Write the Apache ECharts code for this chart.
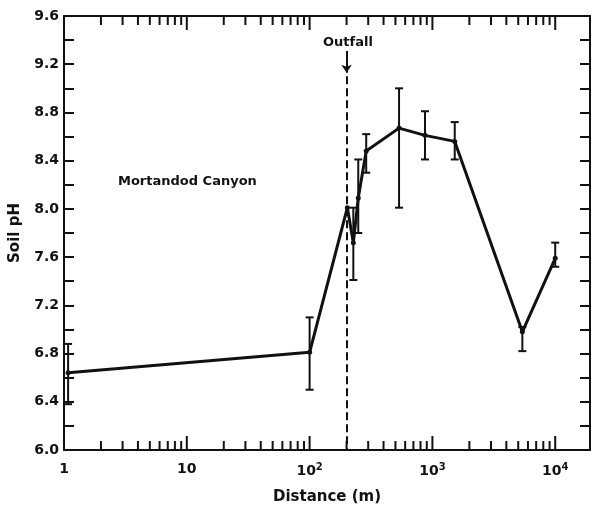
<!DOCTYPE html>
<html>
<head>
<meta charset="utf-8">
<script src="https://cdn.jsdelivr.net/npm/echarts@6/dist/echarts.min.js"></script>
<style>
  html, body { margin: 0; padding: 0; background: #fff; }
  #chart { width: 593px; height: 510px; }
</style>
</head>
<body>
<div id="chart"></div>
<script>
// distance (m) and soil pH
var distance = [1.08, 100, 203, 227, 249, 289, 535, 870, 1520, 5400, 10000];
var soilPH   = [6.64, 6.81, 8.01, 7.72, 8.09, 8.48, 8.67, 8.61, 8.56, 6.98, 7.59];
// error bar ends (null = no bar drawn)
var errLow   = [6.38, 6.50, null, 7.41, 7.80, 8.30, 8.01, 8.41, 8.41, 6.82, 7.52];
var errHigh  = [6.88, 7.10, null, 8.01, 8.41, 8.62, 9.00, 8.81, 8.72, 7.02, 7.72];

var outfallX = 200;
var xTickLabels = { 0: '1', 1: '10', 2: '10{sup|2}', 3: '10{sup|3}', 4: '10{sup|4}' };
var yMin = 6.0, yMax = 9.6, yStep = 0.4;
var xMin = 1, xMax = 19200;

var font = '"DejaVu Sans", sans-serif';
var ink = '#111';

var points = distance.map(function (d, i) { return [d, soilPH[i]]; });
var errData = [];
distance.forEach(function (d, i) {
  if (errLow[i] != null) errData.push([d, errLow[i], errHigh[i]]);
});

// log-axis tick positions (1..9 x 10^k), drawn on bottom & top frame
var logTicks = [];
for (var k = 0; k <= 4; k++) {
  for (var m = 1; m <= 9; m++) {
    var v = m * Math.pow(10, k);
    if (v <= xMax) logTicks.push([v, m === 1 ? 1 : 0]);
  }
}

var chart = echarts.init(document.getElementById('chart'));

chart.setOption({
  backgroundColor: '#fff',
  animation: false,
  grid: { left: 61, right: 3, top: 16, bottom: 51 },
  xAxis: [{
    type: 'log',
    logBase: 10,
    min: xMin,
    max: xMax,
    position: 'bottom',
    name: 'Distance (m)',
    nameLocation: 'middle',
    nameGap: 40,
    nameTextStyle: { fontFamily: font, fontWeight: 'bold', fontSize: 15, color: ink },
    axisLine: { lineStyle: { color: ink, width: 2 } },
    axisTick: { show: false },
    splitLine: { show: false },
    axisLabel: {
      margin: 12,
      showMaxLabel: false,
      formatter: function (val) {
        var e = Math.log10(val);
        var r = Math.round(e);
        if (Math.abs(e - r) > 1e-6) return '';
        return xTickLabels[r] || '';
      },
      fontFamily: font, fontWeight: 'bold', fontSize: 14, color: ink,
      rich: {
        sup: { fontFamily: font, fontWeight: 'bold', fontSize: 10, color: ink, verticalAlign: 'top', padding: [0, 0, 8, 0] }
      }
    }
  }, {
    type: 'log',
    logBase: 10,
    min: xMin,
    max: xMax,
    position: 'top',
    axisLine: { lineStyle: { color: ink, width: 2 } },
    axisTick: { show: false },
    axisLabel: { show: false },
    splitLine: { show: false }
  }],
  yAxis: [{
    type: 'value',
    min: yMin,
    max: yMax,
    interval: yStep,
    position: 'left',
    name: 'Soil pH',
    nameLocation: 'middle',
    nameGap: 41,
    nameTextStyle: { fontFamily: font, fontWeight: 'bold', fontSize: 15, color: ink },
    axisLine: { show: true, lineStyle: { color: ink, width: 2 } },
    axisTick: { show: true, inside: true, length: 10, lineStyle: { color: ink, width: 2 } },
    minorTick: { show: true, splitNumber: 2, length: 10, lineStyle: { color: ink, width: 2 } },
    splitLine: { show: false },
    axisLabel: {
      margin: 5,
      formatter: function (v) { return v.toFixed(1); },
      fontFamily: font, fontWeight: 'bold', fontSize: 14, color: ink
    }
  }, {
    type: 'value',
    min: yMin,
    max: yMax,
    interval: yStep,
    position: 'right',
    axisLine: { show: true, lineStyle: { color: ink, width: 2 } },
    axisTick: { show: true, inside: true, length: 10, lineStyle: { color: ink, width: 2 } },
    minorTick: { show: true, splitNumber: 2, length: 10, lineStyle: { color: ink, width: 2 } },
    splitLine: { show: false },
    axisLabel: { show: false }
  }],
  graphic: [
    { type: 'text', left: 323, top: 36, style: { text: 'Outfall', font: 'bold 13px ' + font, fill: ink } },
    { type: 'text', left: 118, top: 175, style: { text: 'Mortandod Canyon', font: 'bold 13px ' + font, fill: ink } }
  ],
  series: [{
    // log ticks on the bottom and top frame
    name: 'logTicks',
    type: 'custom',
    silent: true,
    clip: false,
    data: logTicks,
    renderItem: function (params, api) {
      var bottom = api.coord([api.value(0), yMin]);
      var top = api.coord([api.value(0), yMax]);
      var len = api.value(1) ? 14 : 9;
      var style = { stroke: ink, lineWidth: 2 };
      return {
        type: 'group',
        children: [
          { type: 'line', shape: { x1: bottom[0], y1: bottom[1], x2: bottom[0], y2: bottom[1] - len }, style: style },
          { type: 'line', shape: { x1: top[0], y1: top[1], x2: top[0], y2: top[1] + len }, style: style }
        ]
      };
    }
  }, {
    name: 'errorBars',
    type: 'custom',
    silent: true,
    data: errData,
    renderItem: function (params, api) {
      var lo = api.coord([api.value(0), api.value(1)]);
      var hi = api.coord([api.value(0), api.value(2)]);
      var cap = 4;
      var style = { stroke: ink, lineWidth: 2 };
      return {
        type: 'group',
        children: [
          { type: 'line', shape: { x1: lo[0], y1: lo[1], x2: hi[0], y2: hi[1] }, style: style },
          { type: 'line', shape: { x1: lo[0] - cap, y1: lo[1], x2: lo[0] + cap, y2: lo[1] }, style: style },
          { type: 'line', shape: { x1: hi[0] - cap, y1: hi[1], x2: hi[0] + cap, y2: hi[1] }, style: style }
        ]
      };
    }
  }, {
    name: 'Soil pH',
    type: 'line',
    data: points,
    symbol: 'circle',
    symbolSize: 5,
    itemStyle: { color: ink },
    lineStyle: { color: ink, width: 3 },
    markLine: {
      silent: true,
      symbol: 'none',
      label: { show: false },
      data: [
        [{ coord: [outfallX, 9.10], lineStyle: { type: [8, 4], width: 2, color: ink } },
         { coord: [outfallX, yMin] }],
        [{ coord: [outfallX, 9.31], symbol: 'none', lineStyle: { type: 'solid', width: 2, color: ink } },
         { coord: [outfallX, 9.13], symbol: 'arrow', symbolSize: 8 }]
      ]
    }
  }]
});
</script>
</body>
</html>
